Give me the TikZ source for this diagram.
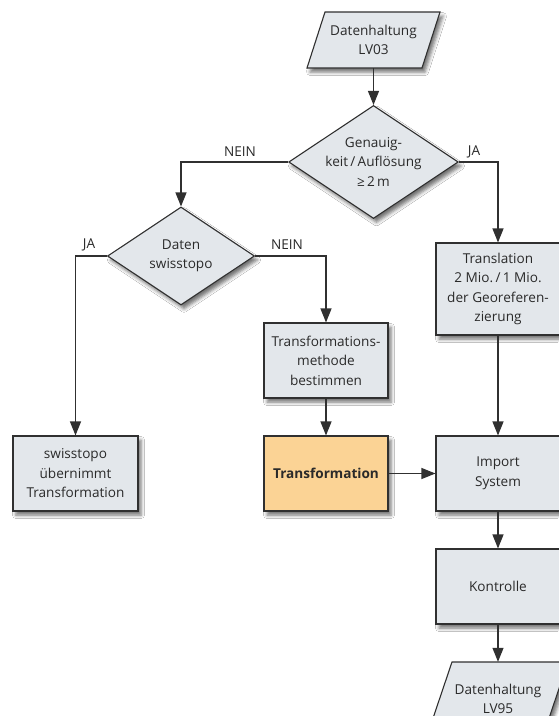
\documentclass[tikz,border=0pt]{standalone}
\usepackage{fontspec}
\setmainfont{Open Sans}
\usetikzlibrary{shapes.geometric,arrows.meta,shadows.blur}
\definecolor{boxfill}{HTML}{E3E7EB}
\definecolor{orangefill}{HTML}{FBD395}
\definecolor{edge}{HTML}{303030}
\definecolor{txt}{HTML}{2A2A2A}
\begin{document}
\begin{tikzpicture}[x=1pt,y=-1pt,
  font=\fontsize{13.6}{19.5}\selectfont, text=txt,
  shadowed/.style={blur shadow={shadow xshift=3pt,shadow yshift=-4pt,shadow blur radius=3.5pt,shadow opacity=55}},
  box/.style={draw=edge, line width=1.1pt, fill=boxfill, minimum width=124pt, minimum height=75pt, align=center, inner sep=2pt, shadowed},
  dec/.style={diamond, draw=edge, line width=1.1pt, fill=boxfill, minimum width=147pt, minimum height=98pt, aspect=1.5, inner sep=0pt, align=center, shadowed},
  para/.style={draw=edge, line width=1.1pt, fill=boxfill, shadowed},
  ptext/.style={minimum width=115pt, minimum height=56pt, align=center, inner sep=0pt},
  conn/.style={draw=edge, line width=1.1pt, -{Triangle[length=14pt,width=11pt]}},
  lbl/.style={inner sep=0pt}]
\useasboundingbox (0,0) rectangle (558,716);
\fill[white] (0,0) rectangle (558,716);

% parallelograms
\path[para] (325,12) -- (440,12) -- (422,68) -- (307,68) -- cycle;
\node[ptext] (lv03) at (373.5,40) {Datenhaltung\\LV03};
\path[para] (452,662) -- (568,662) -- (543,736) -- (427,736) -- cycle;
\node[ptext, minimum height=74pt] (lv95) at (498,699) {Datenhaltung\\LV95};

% decisions
\node[dec] (gen) at (373.5,162) {Genauig-\\keit\,/\,Auflösung\\≥\,2\,m};
\node[dec] (daten) at (181,256) {Daten\\swisstopo};

% boxes
\node[box, minimum width=125pt] (swiss) at (75.5,473.5) {swisstopo\\übernimmt\\Transformation};
\node[box] (methode) at (326,360.5) {Transformations-\\methode\\bestimmen};
\node[box, fill=orangefill] (trans) at (326,473.5) {\bfseries Transformation};
\node[box] (import) at (498,473.5) {Import\\System};
\node[box, minimum height=92pt] (translation) at (498,289) {Translation\\2 Mio.\,/\,1 Mio.\\der Georeferen-\\zierung};
\node[box] (kontrolle) at (498,586.5) {Kontrolle};

% labels
\node[lbl] (l1) at (240,152) {NEIN};
\node[lbl] (l2) at (474,152) {JA};
\node[lbl] (l3) at (89,245) {JA};
\node[lbl] (l4) at (287,245) {NEIN};

% connectors
\draw[conn] (lv03) -- (gen);
\draw[conn] (gen.west) -| (daten.north);
\draw[conn] (gen.east) -| (translation.north);
\draw[conn] (daten.west) -| (swiss.north);
\draw[conn] (daten.east) -| (methode.north);
\draw[conn] (methode) -- (trans);
\draw[conn] (trans) -- (import);
\draw[conn] (translation) -- (import);
\draw[conn] (import) -- (kontrolle);
\draw[conn] (kontrolle) -- (lv95);
\end{tikzpicture}
\end{document}
